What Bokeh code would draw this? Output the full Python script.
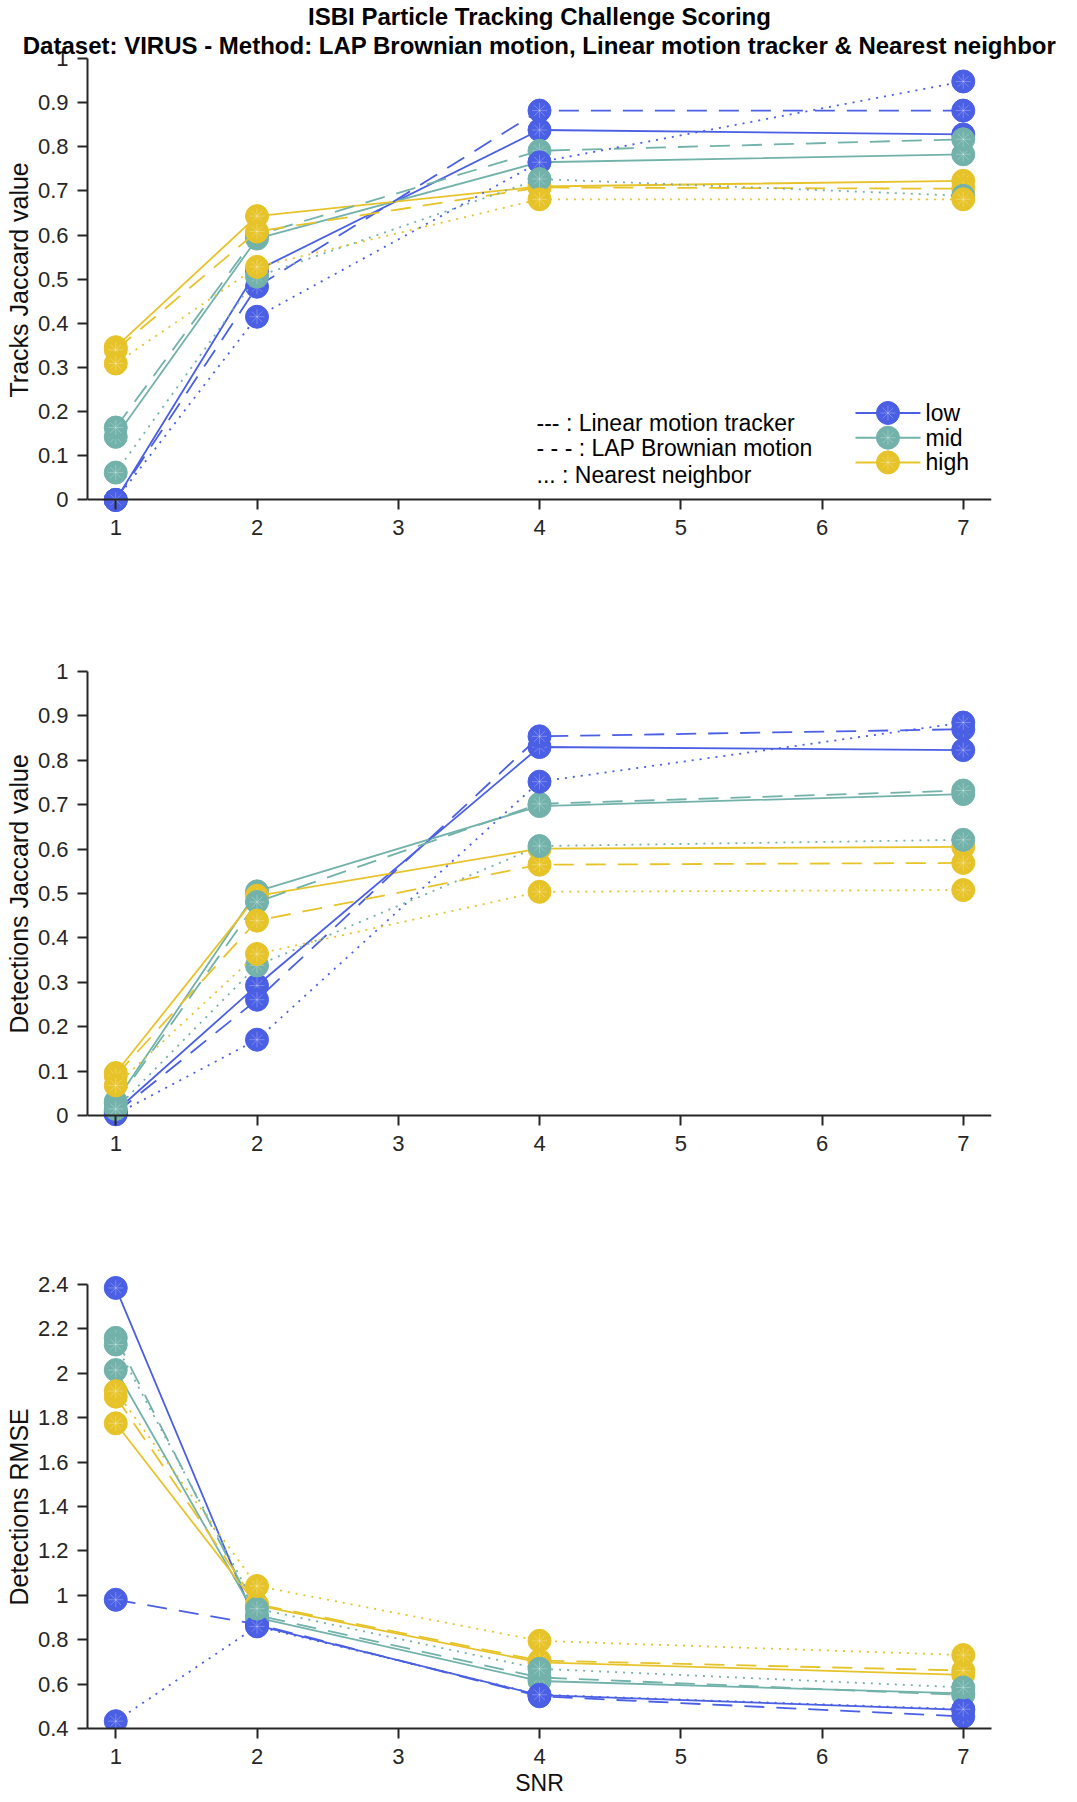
from bokeh.plotting import figure
from bokeh.layouts import column
from bokeh.models import Range1d, FixedTicker, CustomJSTickFormatter, Title, Label
from bokeh.embed import file_html
from bokeh.resources import INLINE

# ---------------- data ----------------
snr = [1, 2, 4, 7]
x_ticks = [1, 2, 3, 4, 5, 6, 7]
level_names = ["low", "mid", "high"]
method_keys = ["linear", "lap", "nn"]
method_legend = ["--- : Linear motion tracker", "- - - : LAP Brownian motion", "... : Nearest neighbor"]

jaccard_ticks = [0, 0.1, 0.2, 0.3, 0.4, 0.5, 0.6, 0.7, 0.8, 0.9, 1]
rmse_ticks = [0.4, 0.6, 0.8, 1, 1.2, 1.4, 1.6, 1.8, 2, 2.2, 2.4]

# Tracks Jaccard value
tracks_linear_low = [0.000, 0.520, 0.838, 0.828]
tracks_linear_mid = [0.143, 0.592, 0.765, 0.783]
tracks_linear_high = [0.346, 0.643, 0.710, 0.723]
tracks_lap_low = [0.000, 0.483, 0.882, 0.882]
tracks_lap_mid = [0.164, 0.600, 0.791, 0.817]
tracks_lap_high = [0.340, 0.608, 0.708, 0.705]
tracks_nn_low = [0.000, 0.415, 0.765, 0.948]
tracks_nn_mid = [0.062, 0.506, 0.727, 0.689]
tracks_nn_high = [0.309, 0.528, 0.681, 0.681]

# Detections Jaccard value
det_linear_low = [0.010, 0.293, 0.830, 0.823]
det_linear_mid = [0.032, 0.505, 0.697, 0.724]
det_linear_high = [0.096, 0.495, 0.601, 0.605]
det_lap_low = [0.006, 0.261, 0.854, 0.870]
det_lap_mid = [0.028, 0.481, 0.702, 0.732]
det_lap_high = [0.090, 0.439, 0.565, 0.569]
det_nn_low = [0.003, 0.171, 0.752, 0.885]
det_nn_mid = [0.015, 0.338, 0.607, 0.621]
det_nn_high = [0.068, 0.364, 0.504, 0.508]

# Detections RMSE
rmse_linear_low = [2.385, 0.865, 0.550, 0.484]
rmse_linear_mid = [2.015, 0.900, 0.614, 0.558]
rmse_linear_high = [1.775, 0.955, 0.698, 0.642]
rmse_lap_low = [0.980, 0.870, 0.545, 0.454]
rmse_lap_mid = [2.160, 0.910, 0.630, 0.551]
rmse_lap_high = [1.895, 0.960, 0.706, 0.661]
rmse_nn_low = [0.433, 0.860, 0.552, 0.487]
rmse_nn_mid = [2.130, 0.940, 0.669, 0.585]
rmse_nn_high = [1.920, 1.042, 0.795, 0.731]

tracks = {
    "linear": {"low": tracks_linear_low, "mid": tracks_linear_mid, "high": tracks_linear_high},
    "lap": {"low": tracks_lap_low, "mid": tracks_lap_mid, "high": tracks_lap_high},
    "nn": {"low": tracks_nn_low, "mid": tracks_nn_mid, "high": tracks_nn_high},
}
dets = {
    "linear": {"low": det_linear_low, "mid": det_linear_mid, "high": det_linear_high},
    "lap": {"low": det_lap_low, "mid": det_lap_mid, "high": det_lap_high},
    "nn": {"low": det_nn_low, "mid": det_nn_mid, "high": det_nn_high},
}
rmse = {
    "linear": {"low": rmse_linear_low, "mid": rmse_linear_mid, "high": rmse_linear_high},
    "lap": {"low": rmse_lap_low, "mid": rmse_lap_mid, "high": rmse_lap_high},
    "nn": {"low": rmse_nn_low, "mid": rmse_nn_mid, "high": rmse_nn_high},
}

# ---------------- style ----------------
COLORS = {"low": "#4a5fe4", "mid": "#72b2aa", "high": "#e7c32a"}
DASH = {"linear": "solid", "lap": "20 12", "nn": "2 6"}
AX = "#262626"
FONT = "Liberation Sans"
FMT = CustomJSTickFormatter(code="return String(Math.round(tick*100)/100);")
MSIZE = 23


def make_panel(series, yr, bounds, ticks, ylabel, ylabel_offset, frame_h, top, bottom,
               xfixed=None, xlabel=None, title=None):
    p = figure(frame_width=904, frame_height=frame_h,
               x_range=Range1d(0.8, 7.2), y_range=Range1d(*yr),
               output_backend="svg", toolbar_location=None, title=title,
               min_border_left=87, min_border_right=70,
               min_border_top=top, min_border_bottom=bottom)
    p.grid.visible = False
    p.outline_line_color = None
    p.background_fill_color = "white"

    for m in method_keys:
        for lv in level_names:
            vals = series[m][lv]
            c = COLORS[lv]
            p.line(snr, vals, line_color=c, line_width=1.8, line_dash=DASH[m])
            p.scatter(snr, vals, marker="circle", size=MSIZE, fill_color=c, line_color=c, line_width=1)
            p.scatter(snr, vals, marker="asterisk", size=15, line_color="white", line_alpha=0.35, line_width=0.8)

    for ax in (p.xaxis[0], p.yaxis[0]):
        ax.axis_line_color = AX
        ax.axis_line_width = 2
        ax.major_tick_line_color = AX
        ax.major_tick_line_width = 2
        ax.major_tick_out = 10
        ax.major_tick_in = 0
        ax.minor_tick_line_color = None
        ax.major_label_text_font = FONT
        ax.major_label_text_font_size = "22px"
        ax.major_label_text_color = AX
        ax.major_label_standoff = 9
        ax.axis_label_text_font = FONT
        ax.axis_label_text_font_size = "23px"
        ax.axis_label_text_font_style = "normal"
        ax.axis_label_text_color = "#111111"

    p.xaxis.major_label_standoff = 10
    p.xaxis.ticker = FixedTicker(ticks=x_ticks)
    p.yaxis.ticker = FixedTicker(ticks=ticks)
    p.yaxis.formatter = FMT
    p.yaxis.bounds = bounds
    # y-axis title as a side title, placed so that it is centred on the axis bounds
    p.add_layout(Title(text=ylabel, align="left", offset=ylabel_offset, standoff=3,
                       text_font=FONT, text_font_size="25px", text_font_style="normal",
                       text_color="#111111"), "left")
    if xfixed is not None:
        p.xaxis.fixed_location = xfixed
    if xlabel:
        p.xaxis.axis_label = xlabel
        p.xaxis.axis_label_standoff = 3
    return p


p1 = make_panel(tracks, (-0.11, 1.0), (0, 1), jaccard_ticks, "Tracks Jaccard value", 151,
                490, 50, 43, xfixed=0, title="ISBI Particle Tracking Challenge Scoring")
p1.title.align = "center"
p1.title.text_font = FONT
p1.title.text_font_size = "24px"
p1.title.text_font_style = "bold"
p1.title.text_color = "black"
p1.title.standoff = 0
p1.add_layout(Title(text="Dataset: VIRUS - Method: LAP Brownian motion, Linear motion tracker & Nearest neighbor",
                    align="center", text_font=FONT, text_font_size="24px", text_font_style="bold",
                    text_color="black", standoff=0), "above")

# line-style legend (text only)
for txt, yy in zip(method_legend, [0.175, 0.118, 0.057]):
    p1.add_layout(Label(x=3.979, y=yy, text=txt, text_font=FONT, text_font_size="23px",
                        text_baseline="middle", text_color="black"))

# colour legend
for lv, yy in zip(level_names, [0.197, 0.141, 0.085]):
    c = COLORS[lv]
    p1.line([6.237, 6.697], [yy, yy], line_color=c, line_width=2)
    p1.scatter([6.467], [yy], marker="circle", size=MSIZE, fill_color=c, line_color=c)
    p1.scatter([6.467], [yy], marker="asterisk", size=15, line_color="white", line_alpha=0.35, line_width=0.8)
    p1.add_layout(Label(x=6.733, y=yy, text=lv, text_font=FONT, text_font_size="23px",
                        text_baseline="middle", text_color="black"))

p2 = make_panel(dets, (-0.11, 1.0), (0, 1), jaccard_ticks, "Detections Jaccard value", 131,
                493, 80, 43, xfixed=0)
p3 = make_panel(rmse, (0.4, 2.45), (0.4, 2.4), rmse_ticks, "Detections RMSE", 123,
                455, 66, 58, xlabel="SNR")

layout = column(p1, p2, p3)
open("out.html", "w").write(file_html(layout, INLINE))
